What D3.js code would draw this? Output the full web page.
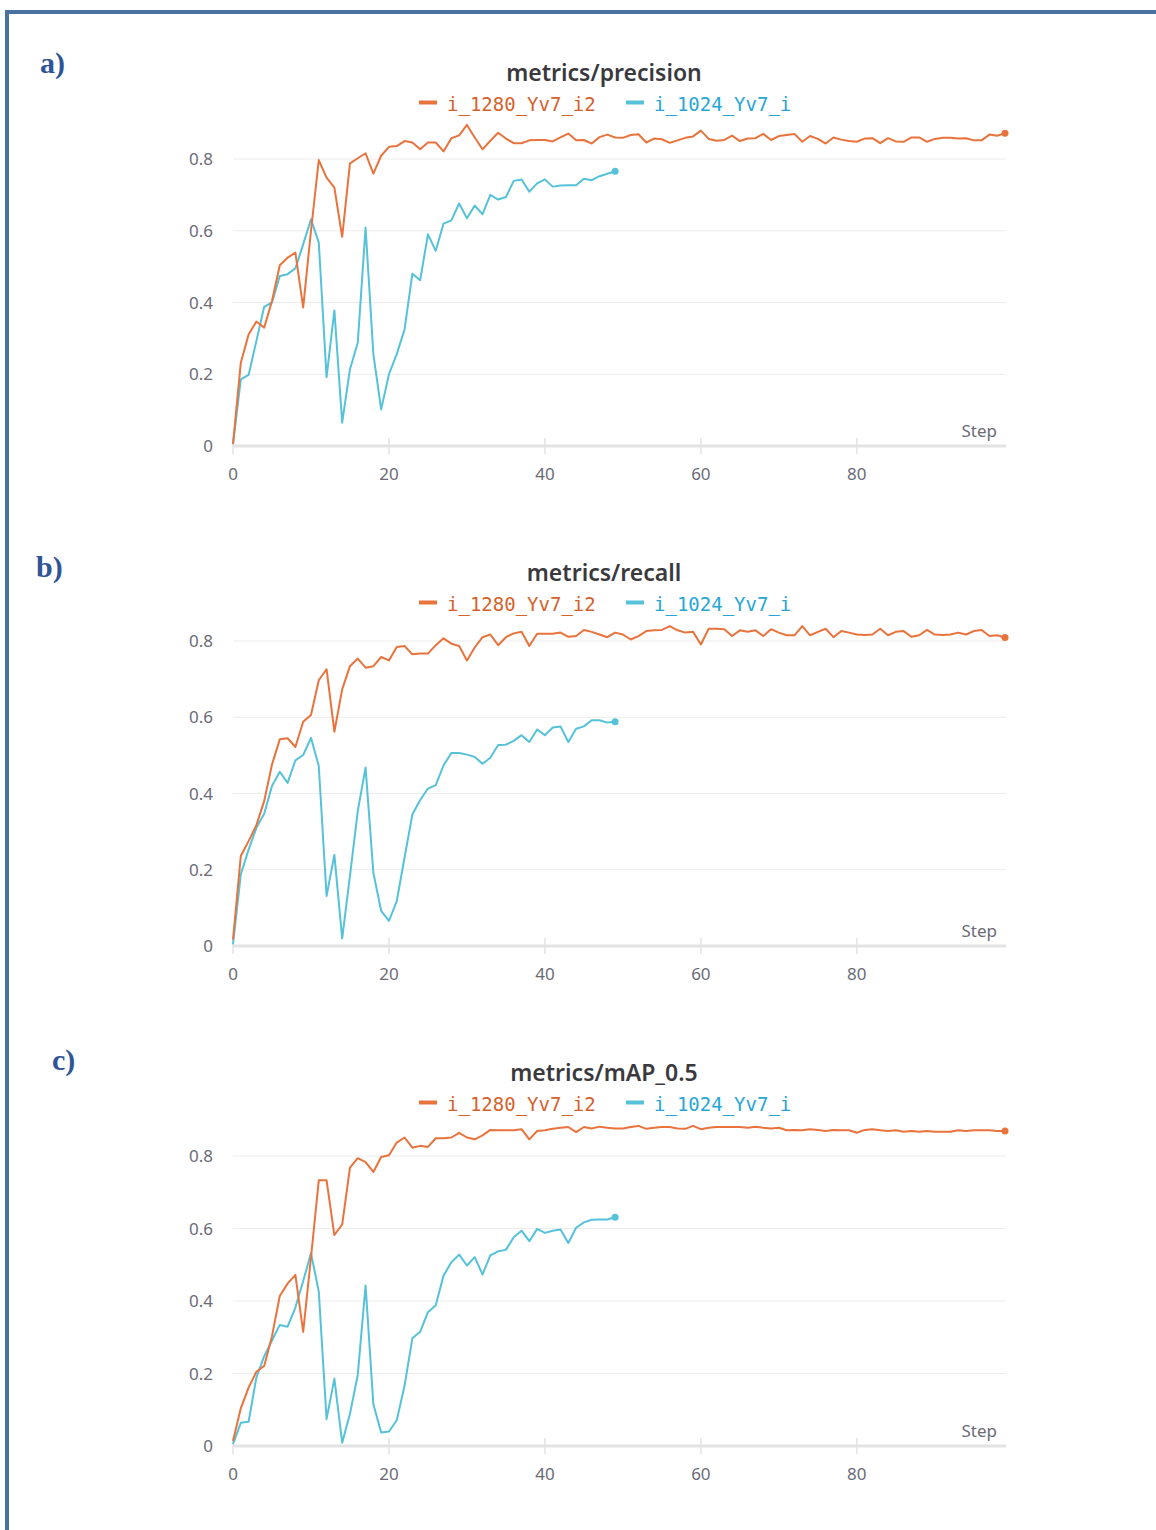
<!DOCTYPE html>
<html>
<head>
<meta charset="UTF-8" />
<title>metrics</title>
<script src="https://cdn.jsdelivr.net/npm/d3@7"></script>
<style>
  body { margin: 0; background: #fff; }
  svg { display: block; }
</style>
</head>
<body>
<div id="chart"></div>
<script>
// run names
var seriesNames = ["i_1280_Yv7_i2", "i_1024_Yv7_i"];
var xTicks = [0, 20, 40, 60, 80];
var yTicks = [0, 0.2, 0.4, 0.6, 0.8];

// metrics/precision
var precision1280 = [0.005,0.232,0.311,0.347,0.330,0.404,0.504,0.525,0.539,0.386,
  0.600,0.797,0.748,0.720,0.583,0.788,0.802,0.816,0.759,0.809,
  0.834,0.836,0.850,0.846,0.827,0.846,0.846,0.821,0.858,0.866,
  0.895,0.860,0.827,0.851,0.873,0.857,0.844,0.844,0.852,0.853,
  0.853,0.849,0.860,0.871,0.852,0.853,0.843,0.861,0.868,0.860,
  0.859,0.867,0.869,0.846,0.857,0.855,0.845,0.852,0.859,0.863,
  0.879,0.856,0.851,0.853,0.865,0.850,0.857,0.858,0.870,0.853,
  0.864,0.867,0.870,0.848,0.864,0.856,0.843,0.860,0.854,0.850,
  0.848,0.857,0.858,0.844,0.858,0.849,0.848,0.860,0.860,0.848,
  0.856,0.859,0.859,0.857,0.858,0.852,0.852,0.868,0.865,0.872];
var precision1024 = [0.005,0.186,0.198,0.293,0.388,0.400,0.474,0.479,0.495,0.562,
  0.632,0.567,0.192,0.378,0.065,0.214,0.288,0.609,0.256,0.102,
  0.200,0.256,0.325,0.480,0.462,0.590,0.544,0.620,0.629,0.676,
  0.635,0.670,0.646,0.700,0.687,0.694,0.739,0.743,0.709,0.732,
  0.743,0.723,0.726,0.727,0.727,0.745,0.741,0.752,0.759,0.766];

// metrics/recall
var recall1280 = [0.017,0.236,0.275,0.317,0.380,0.476,0.542,0.545,0.522,0.588,
  0.606,0.697,0.726,0.562,0.673,0.734,0.754,0.730,0.734,0.758,
  0.749,0.784,0.787,0.765,0.767,0.767,0.789,0.807,0.793,0.787,
  0.749,0.783,0.810,0.817,0.789,0.810,0.820,0.824,0.787,0.819,
  0.819,0.819,0.822,0.811,0.813,0.829,0.824,0.817,0.810,0.822,
  0.817,0.804,0.813,0.826,0.828,0.829,0.839,0.828,0.822,0.824,
  0.791,0.832,0.832,0.831,0.813,0.828,0.824,0.828,0.813,0.831,
  0.822,0.815,0.815,0.839,0.815,0.824,0.832,0.810,0.826,0.822,
  0.817,0.816,0.817,0.832,0.815,0.824,0.826,0.811,0.815,0.829,
  0.817,0.816,0.817,0.822,0.817,0.826,0.829,0.813,0.815,0.809];
var recall1024 = [0.004,0.188,0.253,0.310,0.347,0.420,0.457,0.428,0.487,0.501,
  0.546,0.472,0.131,0.239,0.020,0.184,0.354,0.468,0.192,0.092,
  0.066,0.118,0.232,0.345,0.383,0.413,0.422,0.474,0.506,0.506,
  0.502,0.496,0.478,0.494,0.527,0.528,0.538,0.553,0.535,0.568,
  0.553,0.573,0.576,0.535,0.570,0.576,0.592,0.592,0.586,0.588];

// metrics/mAP_0.5
var map1280 = [0.014,0.104,0.161,0.205,0.221,0.303,0.414,0.448,0.472,0.315,
  0.520,0.733,0.733,0.582,0.611,0.768,0.794,0.783,0.756,0.797,
  0.802,0.837,0.851,0.823,0.828,0.825,0.849,0.849,0.851,0.864,
  0.851,0.846,0.857,0.872,0.871,0.871,0.871,0.874,0.846,0.869,
  0.871,0.875,0.878,0.880,0.866,0.880,0.876,0.881,0.878,0.876,
  0.876,0.880,0.883,0.875,0.878,0.880,0.880,0.876,0.875,0.883,
  0.874,0.878,0.880,0.880,0.880,0.880,0.878,0.881,0.878,0.876,
  0.878,0.871,0.872,0.871,0.874,0.872,0.869,0.872,0.871,0.871,
  0.864,0.872,0.874,0.871,0.869,0.871,0.867,0.869,0.867,0.869,
  0.867,0.867,0.867,0.871,0.869,0.871,0.871,0.871,0.869,0.869];
var map1024 = [0.005,0.064,0.067,0.189,0.248,0.291,0.334,0.329,0.382,0.455,
  0.532,0.426,0.074,0.186,0.009,0.089,0.196,0.443,0.115,0.037,
  0.040,0.071,0.166,0.297,0.315,0.369,0.388,0.470,0.507,0.528,
  0.498,0.521,0.473,0.526,0.537,0.541,0.576,0.594,0.565,0.599,
  0.588,0.594,0.597,0.560,0.602,0.617,0.624,0.625,0.625,0.631];

var lineColors = ["#e8733c", "#55c2da"];
var textColors = ["#d4622c", "#27a6d6"];

var W = 1156, H = 1530;
var svg = d3.select("#chart").append("svg")
    .attr("width", W)
    .attr("height", H);

svg.append("rect").attr("width", W).attr("height", H).attr("fill", "#fff");

// blue frame, only left and top edges are visible
svg.append("rect")
    .attr("x", 7).attr("y", 12)
    .attr("width", W + 20).attr("height", H + 20)
    .attr("fill", "none")
    .attr("stroke", "#4a72a0")
    .attr("stroke-width", 4);

var panels = [
    {tag: "a)", tagX: 40, tagY: 73, title: "metrics/precision", top: 0, y08: 159, base: 446, runs: [precision1280, precision1024]},
    {tag: "b)", tagX: 36, tagY: 577, title: "metrics/recall", top: 500, y08: 641, base: 946, runs: [recall1280, recall1024]},
    {tag: "c)", tagX: 52, tagY: 1070, title: "metrics/mAP_0.5", top: 1000, y08: 1156, base: 1446, runs: [map1280, map1024]}
];

var x = d3.scaleLinear().domain([0, 99]).range([233, 1005]);
var xEnd = 1006;

panels.forEach(function(p) {
    var g = svg.append("g");
    var y = d3.scaleLinear().domain([0, 0.8]).range([p.base, p.y08]);

    g.append("text")
        .attr("x", p.tagX).attr("y", p.tagY)
        .attr("font-family", "'Liberation Serif', 'DejaVu Serif', serif")
        .attr("font-weight", "bold")
        .attr("font-size", 30)
        .attr("fill", "#2f5597")
        .text(p.tag);

    g.append("text")
        .attr("x", 604).attr("y", p.top + 81)
        .attr("text-anchor", "middle")
        .attr("font-family", "'Noto Sans', sans-serif")
        .attr("font-weight", 600)
        .attr("font-size", 23)
        .attr("fill", "#3a3a3e")
        .text(p.title);

    // legend
    var legX = [419, 626];
    seriesNames.forEach(function(name, i) {
        g.append("line")
            .attr("x1", legX[i]).attr("x2", legX[i] + 18)
            .attr("y1", p.top + 102.5).attr("y2", p.top + 102.5)
            .attr("stroke", lineColors[i])
            .attr("stroke-width", 4);
        g.append("text")
            .attr("x", legX[i] + 28).attr("y", p.top + 111)
            .attr("font-family", "'DejaVu Sans Mono', monospace")
            .attr("font-size", 19)
            .attr("fill", textColors[i])
            .text(name);
    });

    // grid
    g.selectAll(".grid").data(yTicks.slice(1)).enter().append("line")
        .attr("x1", 233).attr("x2", xEnd)
        .attr("y1", function(d) { return y(d); })
        .attr("y2", function(d) { return y(d); })
        .attr("stroke", "#ececec")
        .attr("stroke-width", 1);

    g.selectAll(".ylab").data(yTicks).enter().append("text")
        .attr("x", 213)
        .attr("y", function(d) { return y(d) + 6; })
        .attr("text-anchor", "end")
        .attr("font-family", "'Noto Sans', sans-serif")
        .attr("font-size", 17)
        .attr("fill", "#6b6b76")
        .text(function(d) { return d === 0 ? "0" : d3.format(".1f")(d); });

    // x axis
    g.append("line")
        .attr("x1", 233).attr("x2", xEnd)
        .attr("y1", p.base).attr("y2", p.base)
        .attr("stroke", "#e3e3e6")
        .attr("stroke-width", 3);

    g.selectAll(".xtick").data(xTicks).enter().append("line")
        .attr("x1", function(d) { return x(d); })
        .attr("x2", function(d) { return x(d); })
        .attr("y1", p.base - 8).attr("y2", p.base + 8)
        .attr("stroke", "#e3e3e6")
        .attr("stroke-width", 1.5);

    g.selectAll(".xlab").data(xTicks).enter().append("text")
        .attr("x", function(d) { return x(d); })
        .attr("y", p.base + 34)
        .attr("text-anchor", "middle")
        .attr("font-family", "'Noto Sans', sans-serif")
        .attr("font-size", 17)
        .attr("fill", "#6b6b76")
        .text(function(d) { return d; });

    g.append("text")
        .attr("x", 997).attr("y", p.base - 9)
        .attr("text-anchor", "end")
        .attr("font-family", "'Noto Sans', sans-serif")
        .attr("font-size", 17)
        .attr("fill", "#6b6b76")
        .text("Step");

    var line = d3.line()
        .x(function(d, i) { return x(i); })
        .y(function(d) { return y(d); });

    // blue drawn first, orange on top
    [1, 0].forEach(function(i) {
        var vals = p.runs[i];
        g.append("path")
            .datum(vals)
            .attr("d", line)
            .attr("fill", "none")
            .attr("stroke", lineColors[i])
            .attr("stroke-width", 2)
            .attr("stroke-linejoin", "round");
        g.append("circle")
            .attr("cx", x(vals.length - 1))
            .attr("cy", y(vals[vals.length - 1]))
            .attr("r", 3.5)
            .attr("fill", lineColors[i]);
    });
});
</script>
</body>
</html>
